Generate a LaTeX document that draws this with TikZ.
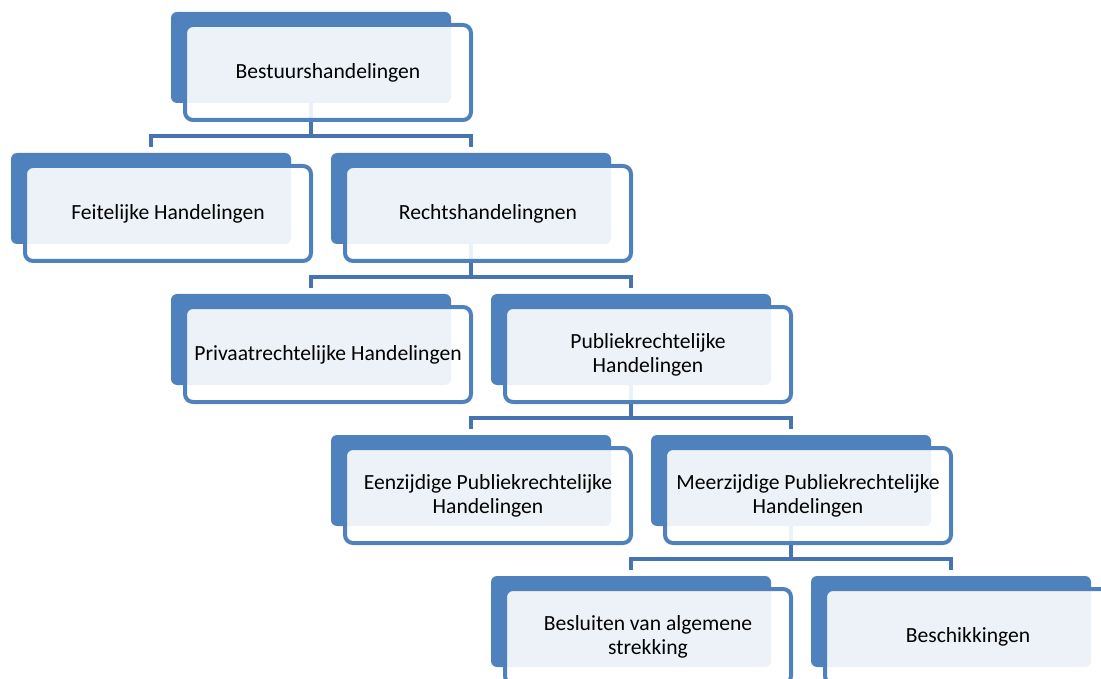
\documentclass[tikz,border=0pt]{standalone}
\usepackage{fontspec}
\newfontfamily\hdfont{Carlito}
\usepackage{tikz}
\usetikzlibrary{positioning, calc}
\definecolor{hdblue}{RGB}{79,129,189}
\definecolor{hdline}{RGB}{70,116,176}
\begin{document}
\begin{tikzpicture}[x=1pt, y=-1pt,
  backbox/.style={rectangle, rounded corners=6pt, fill=hdblue, minimum width=280pt, minimum height=91pt, inner sep=0pt},
  frontbox/.style={rectangle, rounded corners=8pt, draw=hdblue, line width=4pt, fill=white, fill opacity=0.9, text opacity=1, minimum width=286pt, minimum height=95pt, inner sep=0pt, align=center, font=\hdfont\fontsize{21.6}{24}\selectfont},
  link/.style={draw=hdline, line width=4.5pt}]
\useasboundingbox (0,0) rectangle (1101,679);
\clip (0,0) rectangle (1101,679);
\node[backbox] (bestB) at (311,57.5) {};
\node[backbox] (feitB) at (151,198.5) {};
\node[backbox] (rechtB) at (471,198.5) {};
\node[backbox] (privB) at (311,339.5) {};
\node[backbox] (publB) at (631,339.5) {};
\node[backbox] (eenzB) at (471,480.5) {};
\node[backbox] (meerzB) at (791,480.5) {};
\node[backbox] (besluitB) at (631,621.5) {};
\node[backbox] (beschB) at (951,621.5) {};
\draw[link] (bestB.south) -- ++(0,33) coordinate (bestJ);
\draw[link] ([yshift=6pt]feitB.north) |- (bestJ) -| ([yshift=6pt]rechtB.north);
\draw[link] (rechtB.south) -- ++(0,33) coordinate (rechtJ);
\draw[link] ([yshift=6pt]privB.north) |- (rechtJ) -| ([yshift=6pt]publB.north);
\draw[link] (publB.south) -- ++(0,33) coordinate (publJ);
\draw[link] ([yshift=6pt]eenzB.north) |- (publJ) -| ([yshift=6pt]meerzB.north);
\draw[link] (meerzB.south) -- ++(0,33) coordinate (meerzJ);
\draw[link] ([yshift=6pt]besluitB.north) |- (meerzJ) -| ([yshift=6pt]beschB.north);
\node[frontbox] (bestF) at ([shift={(17,15)}]bestB.center) {Bestuurshandelingen};
\node[frontbox] (feitF) at ([shift={(17,15)}]feitB.center) {Feitelijke Handelingen};
\node[frontbox] (rechtF) at ([shift={(17,15)}]rechtB.center) {Rechtshandelingnen};
\node[frontbox] (privF) at ([shift={(17,15)}]privB.center) {Privaatrechtelijke Handelingen};
\node[frontbox] (publF) at ([shift={(17,15)}]publB.center) {Publiekrechtelijke\\Handelingen};
\node[frontbox] (eenzF) at ([shift={(17,15)}]eenzB.center) {Eenzijdige Publiekrechtelijke\\Handelingen};
\node[frontbox] (meerzF) at ([shift={(17,15)}]meerzB.center) {Meerzijdige Publiekrechtelijke\\Handelingen};
\node[frontbox] (besluitF) at ([shift={(17,15)}]besluitB.center) {Besluiten van algemene\\strekking};
\node[frontbox] (beschF) at ([shift={(17,15)}]beschB.center) {Beschikkingen};
\end{tikzpicture}
\end{document}
